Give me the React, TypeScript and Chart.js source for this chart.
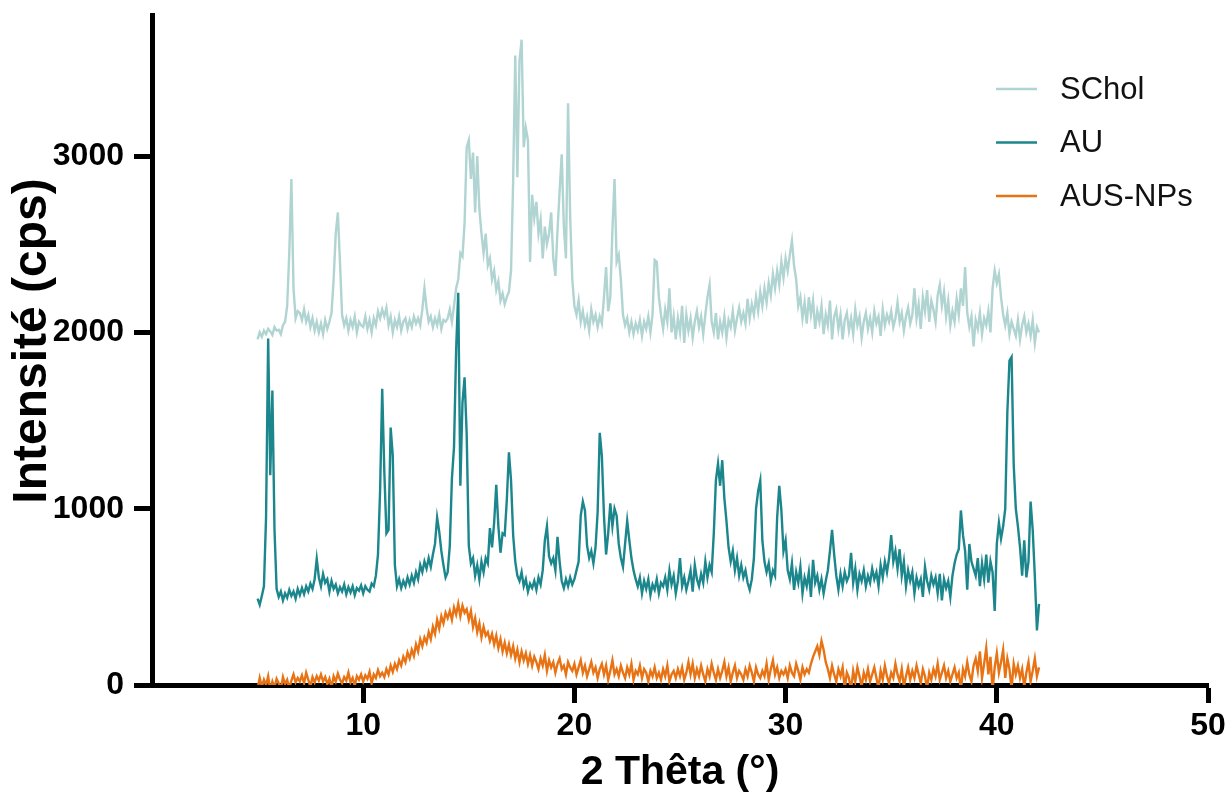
import React, { useEffect, useRef } from 'react';
import { Chart, registerables } from 'chart.js';

Chart.register(...registerables);

// 2θ sampling: from 5.0° to 42.0°, every 0.1°
const THETA_START = 5;
const THETA_STEP = 0.1;

const SERIES_LABELS = ['SChol', 'AU', 'AUS-NPs'];
const X_TITLE = '2 Thêta (°)';
const Y_TITLE = 'Intensité (cps)';

const SCHOL = [
  1960, 2000, 1975, 2010, 1990, 2020, 2005, 1985, 2030, 2010,
  2015, 1990, 2040, 2060, 2150, 2450, 2870, 2250, 2080, 2120,
  2110, 2070, 2130, 2060, 2100, 2030, 2080, 2010, 2060, 2000,
  2050, 1990, 2070, 2020, 2060, 2110, 2300, 2560, 2680, 2400,
  2100, 2040, 2080, 2010, 2070, 2030, 2090, 2000, 2060, 2040,
  2030, 2090, 2020, 2070, 2000, 2080, 2040, 2120, 2080, 2130,
  2090, 2140, 2040, 2090, 2000, 2070, 2030, 2090, 2010, 2060,
  2080, 2020, 2070, 2030, 2090, 2050, 2080, 2040, 2130, 2250,
  2140, 2060, 2090, 2030, 2080, 2040, 2100, 2020, 2070, 2060,
  2080, 2130, 2060, 2150, 2250, 2300, 2450, 2430, 2620, 3050,
  3090, 2870, 3020, 2680, 3000, 2700, 2560, 2450, 2560, 2380,
  2420, 2300, 2350, 2240, 2290, 2180, 2220, 2160, 2200, 2230,
  2350, 2860, 3570, 2880, 3540, 3660, 3050, 3160, 3090, 2400,
  2780, 2650, 2740, 2560, 2640, 2420, 2600, 2500, 2560, 2680,
  2420, 2320, 2580, 2800, 3010, 2600, 2420, 3300, 2650, 2300,
  2150, 2100, 2180, 2060, 2120, 2040, 2090, 2010, 2130, 2060,
  2100, 2030, 2090, 2050, 2200, 2370, 2120, 2200, 2580, 2870,
  2400, 2440, 2300, 2100, 2040, 2080, 2000, 2060, 1990, 2050,
  2010, 2070, 1980, 2060, 2020, 2090, 2000, 2100, 2410, 2400,
  2200, 2100, 2020, 2130, 2060, 2250, 2000, 2090, 1960, 2080,
  2000, 2150, 1940, 2100, 2010, 2080, 1970, 2060, 2120, 2030,
  2090, 1990, 2100, 2200, 2270, 2060, 2000, 2110, 1960, 2060,
  2000, 2090, 1970, 2070, 2030, 2120, 2010, 2080, 2140, 2060,
  2110, 2050, 2190, 2080, 2160, 2100, 2200, 2120, 2230, 2150,
  2250, 2170, 2280, 2210, 2330, 2250, 2350, 2270, 2400, 2310,
  2420, 2350, 2440, 2520, 2380, 2300, 2150, 2200, 2080, 2170,
  2050, 2200, 2100, 2180, 2020, 2120, 2060, 2150, 1990, 2100,
  2040, 2180, 1960, 2090, 2130, 2020, 2100, 1960, 2070, 2110,
  2010, 2080, 1990, 2130, 2040, 2090, 1970, 2060, 2110, 2020,
  2080, 2000, 2120, 2050, 2090, 1980, 2130, 2040, 2100, 2060,
  2120, 2030, 2080, 2170, 2060, 2110, 2010, 2090, 2140, 2050,
  2100, 2250, 2080, 2160, 2020, 2200, 2120, 2240, 2060, 2180,
  2130, 2060, 2210, 2270, 2150, 2230, 2090, 2180, 2040, 2120,
  2060, 2190, 2100, 2250, 2150, 2370, 2110, 2030, 2090, 1920,
  2070, 2020, 2110, 1990, 2080, 2040, 2120, 2000, 2250, 2350,
  2280, 2330, 2200, 2100, 2040, 2110, 1990, 2060, 2020, 1980,
  2070, 1960, 2040, 2090, 2000, 2050, 1980, 2070, 1940, 2030,
  2000,
];

const AU = [
  490, 455, 505, 560, 950, 1965, 1190, 1670, 880, 545,
  500, 530, 480, 520, 495, 540, 505, 530, 490, 545,
  510, 550, 515, 560, 530, 575, 545, 600, 715, 610,
  560, 630, 580, 600, 530, 590, 545, 570, 520, 555,
  530, 570, 515, 555, 525, 560, 510, 550, 535, 565,
  520, 560, 540, 530, 575, 560, 620, 740, 1100, 1680,
  1210, 860, 880, 1460, 1300, 680, 560, 600, 550, 590,
  560, 610, 570, 620, 580, 640, 600, 680, 640, 700,
  660, 720, 670, 740, 800, 950, 870, 760, 680, 610,
  640, 790, 1170, 1350, 1900, 2225, 1130, 1600, 1745, 1420,
  790, 690, 720, 620, 680, 600, 700, 640, 720, 690,
  890, 780, 920, 1135, 900, 750, 860, 850, 1050, 1320,
  1160, 850, 700, 620, 590, 640, 560, 600, 530, 575,
  550, 590, 540, 610, 570, 650, 820, 900, 730, 690,
  720, 650, 840, 700, 590, 550, 600, 560, 610, 570,
  600, 650, 700, 960, 1040, 990, 790, 720, 760, 690,
  780, 980, 1430, 1300, 960, 740, 860, 1030, 900, 1000,
  960, 800, 720, 670, 800, 930, 820, 720, 650, 600,
  560, 610, 520, 590, 545, 600, 510, 570, 540, 600,
  520, 580, 560, 610, 540, 650, 570, 620, 520, 590,
  720, 560, 610, 540, 590, 650, 530, 680, 600, 560,
  630, 580, 700, 610, 680, 640, 860, 1160, 1255, 1130,
  1275, 1060, 930, 780, 700, 760, 650, 720, 620, 680,
  610, 650, 580, 540, 600, 720, 1000, 1100, 1160, 820,
  700, 640, 690, 590, 650, 620, 950, 1130, 990, 760,
  820, 650, 600, 690, 540, 640, 580, 670, 520, 610,
  560, 640, 500, 710, 580, 620, 540, 600, 520, 590,
  650, 760, 880, 740, 620, 540, 630, 560, 640, 590,
  620, 750, 580, 660, 540, 630, 590, 650, 560, 620,
  580, 660, 600, 640, 560, 680, 610, 700, 640, 720,
  850, 700, 760, 660, 770, 620, 700, 560, 650, 590,
  640, 520, 610, 560, 600, 500, 670, 590, 540, 620,
  570, 610, 520, 630, 480, 600, 550, 590, 500, 620,
  690, 740, 770, 990, 850, 760, 540, 800, 700, 660,
  620, 720, 560, 690, 600, 740, 580, 700, 640, 420,
  800, 920, 830, 900, 1000, 1550, 1840, 1860, 1250, 1000,
  900, 780, 620, 820, 610, 700, 1040, 880, 620, 310,
  460,
];

const AUS_NPS = [
  -20, 40, -10, 30, 0, 50, -30, 20, -15, 35,
  10, -25, 45, 5, 30, -20, 25, 60, 15, 40,
  20, 55, 10, 70, 30, -10, 45, 15, 50, 25,
  60, 20, 45, 5, 35, -15, 50, 20, 65, 30,
  10, 45, 25, 70, 15, 40, -5, 50, 30, 60,
  20, 55, 35, 75, 10, 60, 40, 85, 50, 70,
  45, 90, 60, 110, 75, 120, 90, 140, 110, 160,
  130, 185, 150, 200, 165, 230, 190, 260, 220, 270,
  240, 300, 260, 330, 290, 370, 320, 390, 350, 410,
  380, 420, 370, 440, 400, 460, 390, 450, 410, 430,
  370, 420, 330, 380, 300, 350, 270, 330, 280, 300,
  250, 290, 230, 280, 210, 260, 190, 240, 180, 230,
  170, 220, 150, 200, 130, 190, 140, 180, 120, 170,
  110, 160, 130, 90, 150, 110, 170, 80, 140, 100,
  130, 70, 120, 150, 90, 110, 60, 130, 100, 80,
  120, 60, 100, 140, 70, 110, 50, 90, 130, 70,
  100, 40, 90, 120, 60, 110, 30, 80, 140, 60,
  90, 50, 110, 70, 40, 100, 60, 120, 30, 80,
  60, 110, 40, 90, 70, 20, 80, 50, 100, 40,
  70, 30, 90, 50, 110, 20, 60, 80, 40, 90,
  50, 100, 30, 70, 130, 60, 120, 40, 90, 50,
  110, 60, 20, 90, 50, 120, 70, 30, 90, 40,
  80, 130, 50, 100, 20, 70, 110, 40, 80, 60,
  30, 90, 50, 110, 70, 20, 100, 60, 40, 80,
  50, 120, 30, 90, 140, 60, 100, 40, 80, 60,
  90, 40, 110, 70, 50, 120, 80, 30, 100, 60,
  90, 70, 120, 160, 190, 220, 170, 250, 200, 130,
  90, 40, 110, 60, 20, 90, 50, 100, -20, 70,
  40, -30, 80, 20, 100, 50, -10, 70, 30, 90,
  20, 60, 100, 40, -20, 80, 30, 110, 50, 10,
  70, 40, 120, 60, 20, 90, -10, 50, 100, 30,
  80, 40, 110, 60, 10, 90, 50, -20, 70, 30,
  90, 50, 120, 30, 70, 110, 40, 80, 20, 60,
  100, 40, 70, -30, 90, 50, 130, 60, 20, 110,
  150, 80, 190, 40, 120, 210, 60, 160, -30, 100,
  180, 70, 130, 200, 40, 150, 90, -20, 120, 60,
  110, 40, 90, -10, 70, 130, 20, 80, 150, 50,
  100,
];

const X_TICKS = [10, 20, 30, 40, 50];
const Y_TICKS = [0, 1000, 2000, 3000];

const COLORS = ['#b0d4d1', '#1b868c', '#e87314'];
const FONT = '"Liberation Sans", Arial, Helvetica, sans-serif';

function toPoints(values: number[]) {
  return values.map((v, i) => ({ x: Math.round((THETA_START + i * THETA_STEP) * 100) / 100, y: v }));
}

const decorPlugin = {
  id: 'decor',
  afterDraw(chart: any) {
    const ctx = chart.ctx;
    ctx.save();
    // legend inside the plot, top right
    const rows = [89, 142.5, 196];
    chart.data.datasets.forEach((ds: any, i: number) => {
      const y = rows[i];
      ctx.strokeStyle = ds.borderColor;
      ctx.lineWidth = 2.5;
      ctx.beginPath();
      ctx.moveTo(996, y);
      ctx.lineTo(1037, y);
      ctx.stroke();
      ctx.fillStyle = '#111';
      ctx.font = `31px ${FONT}`;
      ctx.textAlign = 'left';
      ctx.textBaseline = 'middle';
      ctx.fillText(ds.label, 1060, y + 1);
    });
    // y-axis title
    ctx.translate(33, 341);
    ctx.rotate(-Math.PI / 2);
    ctx.fillStyle = '#000';
    ctx.font = `bold 48px ${FONT}`;
    ctx.textAlign = 'center';
    ctx.textBaseline = 'middle';
    ctx.fillText(Y_TITLE, 0, 0);
    ctx.restore();
  },
};

export default function App() {
  const canvasRef = useRef<HTMLCanvasElement | null>(null);

  useEffect(() => {
    if (!canvasRef.current) return;
    const chart = new Chart(canvasRef.current, {
      type: 'line',
      data: {
        datasets: [
          { label: SERIES_LABELS[0], data: toPoints(SCHOL), borderColor: COLORS[0], borderWidth: 2.4, pointRadius: 0, order: 2 },
          { label: SERIES_LABELS[1], data: toPoints(AU), borderColor: COLORS[1], borderWidth: 2.4, pointRadius: 0, order: 1 },
          { label: SERIES_LABELS[2], data: toPoints(AUS_NPS), borderColor: COLORS[2], borderWidth: 2.4, pointRadius: 0, order: 0 },
        ],
      },
      options: {
        animation: false,
        responsive: true,
        maintainAspectRatio: false,
        layout: { padding: { left: 0, top: 15, right: 17, bottom: 0 } },
        plugins: { legend: { display: false }, tooltip: { enabled: false } },
        scales: {
          x: {
            type: 'linear',
            min: 0,
            max: 50,
            afterBuildTicks: (scale: any) => {
              scale.ticks = X_TICKS.map((v) => ({ value: v }));
            },
            afterFit: (scale: any) => {
              scale.height = 112;
              scale.paddingLeft = 0;
              scale.paddingRight = 0;
            },
            grid: { drawOnChartArea: false, drawTicks: true, tickLength: 18, tickWidth: 5, tickColor: '#000' },
            border: { display: true, width: 5, color: '#000' },
            ticks: {
              color: '#000',
              padding: 4,
              maxRotation: 0,
              font: { family: FONT, size: 32, weight: 'bold' },
              callback: (v: any) => String(v),
            },
            title: {
              display: true,
              text: X_TITLE,
              color: '#000',
              font: { family: FONT, size: 41, weight: 'bold' },
              padding: { top: 0, bottom: 0 },
            },
          },
          y: {
            type: 'linear',
            min: 0,
            max: 3800,
            afterBuildTicks: (scale: any) => {
              scale.ticks = Y_TICKS.map((v) => ({ value: v }));
            },
            afterFit: (scale: any) => {
              scale.width = 152;
              scale.paddingTop = 0;
              scale.paddingBottom = 0;
            },
            grid: { drawOnChartArea: false, drawTicks: true, tickLength: 18, tickWidth: 5, tickColor: '#000' },
            border: { display: true, width: 5, color: '#000' },
            ticks: {
              color: '#000',
              padding: 10,
              font: { family: FONT, size: 32, weight: 'bold' },
              callback: (v: any) => String(v),
            },
            title: { display: false },
          },
        },
      },
      plugins: [decorPlugin],
    });
    return () => chart.destroy();
  }, []);

  return (
    <div style={{ position: 'fixed', left: 0, top: 0, width: 1225, height: 797, background: '#fff' }}>
      <canvas ref={canvasRef} />
    </div>
  );
}
